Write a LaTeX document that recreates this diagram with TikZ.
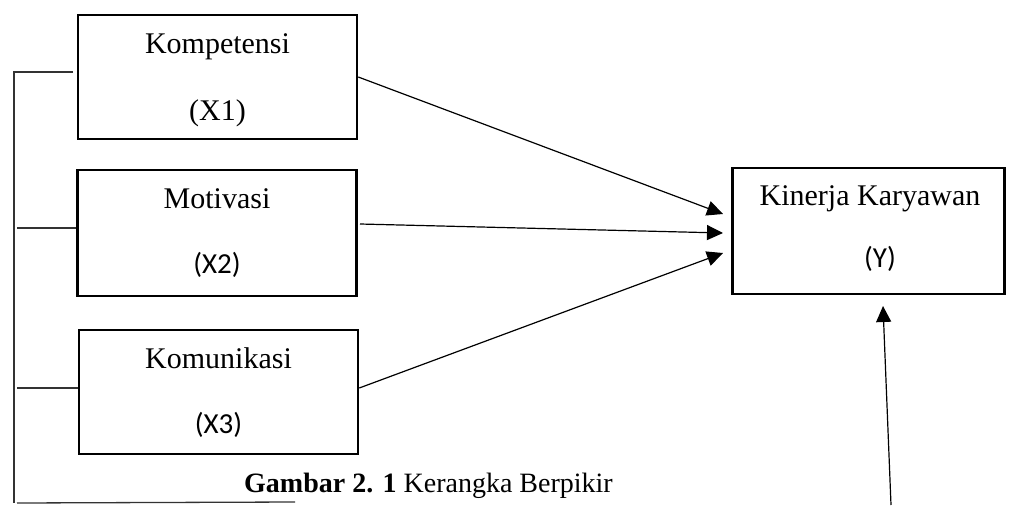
\documentclass[tikz,border=0pt]{standalone}
\usepackage{fontspec}
\setmainfont{Liberation Serif}
\newfontfamily\calibrilike{Carlito}
\usetikzlibrary{arrows.meta}
\tikzset{
  varbox/.style={draw=black, line width=2.5pt, minimum width=#1, inner sep=0pt},
  lbl/.style={anchor=base, inner sep=0pt, font=\fontsize{30}{36}\selectfont},
  lblc/.style={anchor=base, inner sep=0pt, font=\calibrilike\fontsize{29}{34}\selectfont},
  link/.style={line width=1.2pt, -{Triangle[length=16pt,width=15pt]}},
  frame/.style={line width=1.3pt, draw=black!80},
}
\begin{document}
\begin{tikzpicture}[x=1pt,y=-1pt]
\useasboundingbox (0,0) rectangle (1009,506);

% variable boxes
\node[varbox=279pt, minimum height=124pt] (x1) at (217.5,77) {};
\node[varbox=279pt, minimum height=126pt] (x2) at (217,233) {};
\node[varbox=279pt, minimum height=124pt] (x3) at (218.5,392) {};
\node[varbox=272pt, minimum height=126pt] (y) at (868.5,231) {};

% box texts
\node[lbl] (x1t) at (217.5,53) {Kompetensi};
\node[lbl] (x1s) at (217.5,120) {(X1)};
\node[lbl] (x2t) at (217,208) {Motivasi};
\node[lblc] (x2s) at (217,273) {(X2)};
\node[lbl] (x3t) at (218.5,368) {Komunikasi};
\node[lblc] (x3s) at (218.5,433) {(X3)};
\node[lbl] (yt) at (870,205) {Kinerja Karyawan};
\node[lblc] (ys) at (880,267) {(Y)};

% arrow end points in front of the dependent box
\coordinate (t1) at (723,214);
\coordinate (t2) at (723,233);
\coordinate (t3) at (723,253);
\coordinate (t4) at (883,306);
\coordinate (s4) at (891,505);
\coordinate (s2) at (360,224);

\draw[link] (x1.east) -- (t1);
\draw[link] (s2) -- (t2);
\draw[link] (x3.east |- 0,388) -- (t3);
\draw[link] (s4) -- (t4);

% left bracket joining the independent variables
\coordinate (b0) at (14,72);
\coordinate (b1) at (73,72);
\coordinate (b4) at (14,503);
\coordinate (b5) at (295,502);
\draw[frame] (b1) -- (b0) -- (b4);
\draw[frame] (17,228) -- (x2.west |- 0,228);
\draw[frame] (17,388) -- (x3.west |- 0,388);
\draw[frame] (17,503) -- (b5);

% caption
\node[anchor=base west, inner sep=0pt, font=\fontsize{28}{33}\selectfont] (cap) at (244,492)
  {\textbf{Gambar 2. 1} Kerangka Berpikir};
\end{tikzpicture}
\end{document}
